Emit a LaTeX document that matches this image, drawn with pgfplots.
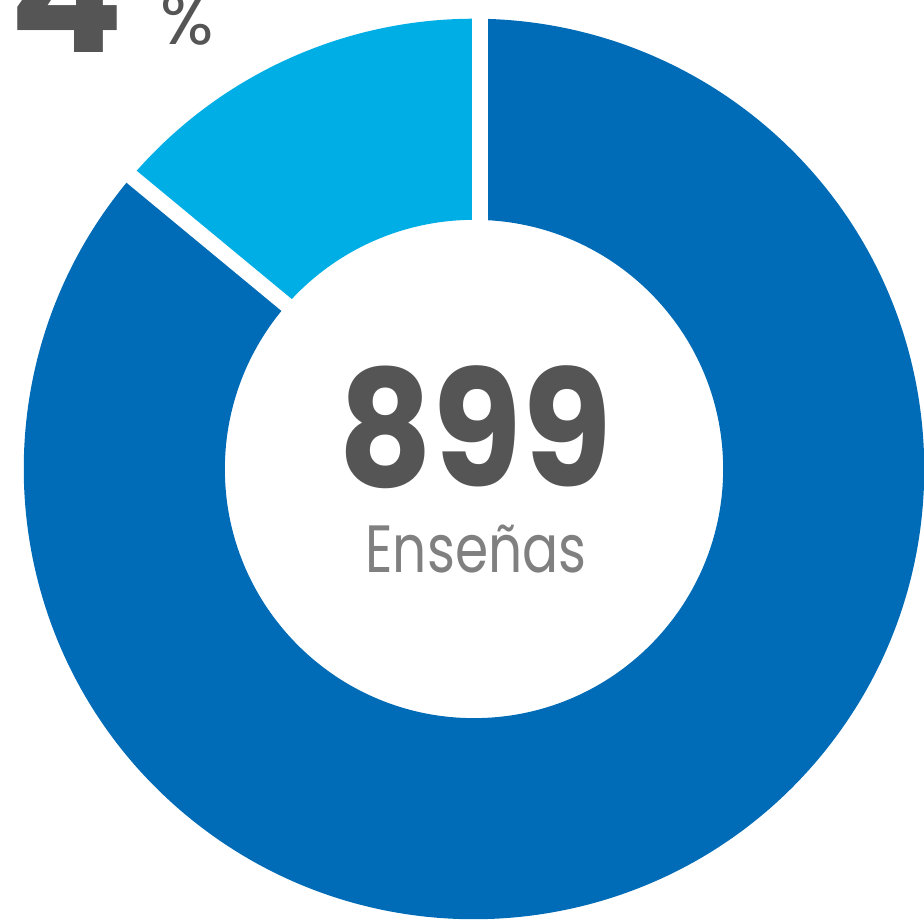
\documentclass[border=0pt]{standalone}
\usepackage{pgfplots}
\pgfplotsset{compat=1.18}
\usepackage{pgfplotstable}
\usepackage{fontspec}
\setmainfont{Poppins}
\definecolor{ringdark}{RGB}{0,108,183}
\definecolor{ringlight}{RGB}{0,174,230}
\definecolor{numgray}{RGB}{85,85,85}
\definecolor{lblgray}{RGB}{128,128,128}

% share of each slice, in percent
\pgfplotstableread{
label value
Otras 14
Resto 86
}\slices

\begin{document}
\begin{tikzpicture}
\pgfplotstablegetelem{0}{value}\of\slices
\pgfmathsetmacro\aStart{90}
\pgfmathsetmacro\aMid{90+3.6*\pgfplotsretval}
\pgfmathsetmacro\aEnd{450}
\begin{axis}[
  hide axis, x=0.01cm, y=0.01cm,
  xmin=0, xmax=924, ymin=0, ymax=922,
  clip=true,
]
\begin{scope}[shift={(axis cs:474,453)}]
  \fill[ringlight] (\aStart:4.5cm) arc[start angle=\aStart, end angle=\aMid, radius=4.5cm]
    -- (\aMid:2.49cm) arc[start angle=\aMid, end angle=\aStart, radius=2.49cm] -- cycle;
  \fill[ringdark] (\aMid:4.5cm) arc[start angle=\aMid, end angle=\aEnd, radius=4.5cm]
    -- (\aEnd:2.49cm) arc[start angle=\aEnd, end angle=\aMid, radius=2.49cm] -- cycle;
\end{scope}
\begin{scope}[shift={(axis cs:480,457)}]
  \draw[white, line width=0.155cm] (0,0) -- (\aStart:5cm);
  \draw[white, line width=0.155cm] (0,0) -- (\aMid:5cm);
\end{scope}
\node[anchor=base, inner sep=0pt, text depth=0pt, text=numgray, font=\fontsize{46}{46}\selectfont\bfseries]
  at (axis cs:475,435) {\scalebox{0.9}[1]{899}};
\node[anchor=base, inner sep=0pt, text=lblgray, font=\fontsize{19}{19}\selectfont]
  at (axis cs:476,349) {\scalebox{0.8}[1]{Enseñas}};
\node[anchor=base east, inner sep=0pt, text=numgray, font=\fontsize{48}{48}\selectfont\bfseries]
  at (axis cs:124,869) {14};
\node[anchor=base west, inner sep=0pt, text=numgray, font=\fontsize{20}{20}\selectfont]
  at (axis cs:160,877) {\%};
\end{axis}
\pgfresetboundingbox
\path[use as bounding box] (current axis.south west) rectangle (current axis.north east);
\end{tikzpicture}
\end{document}
